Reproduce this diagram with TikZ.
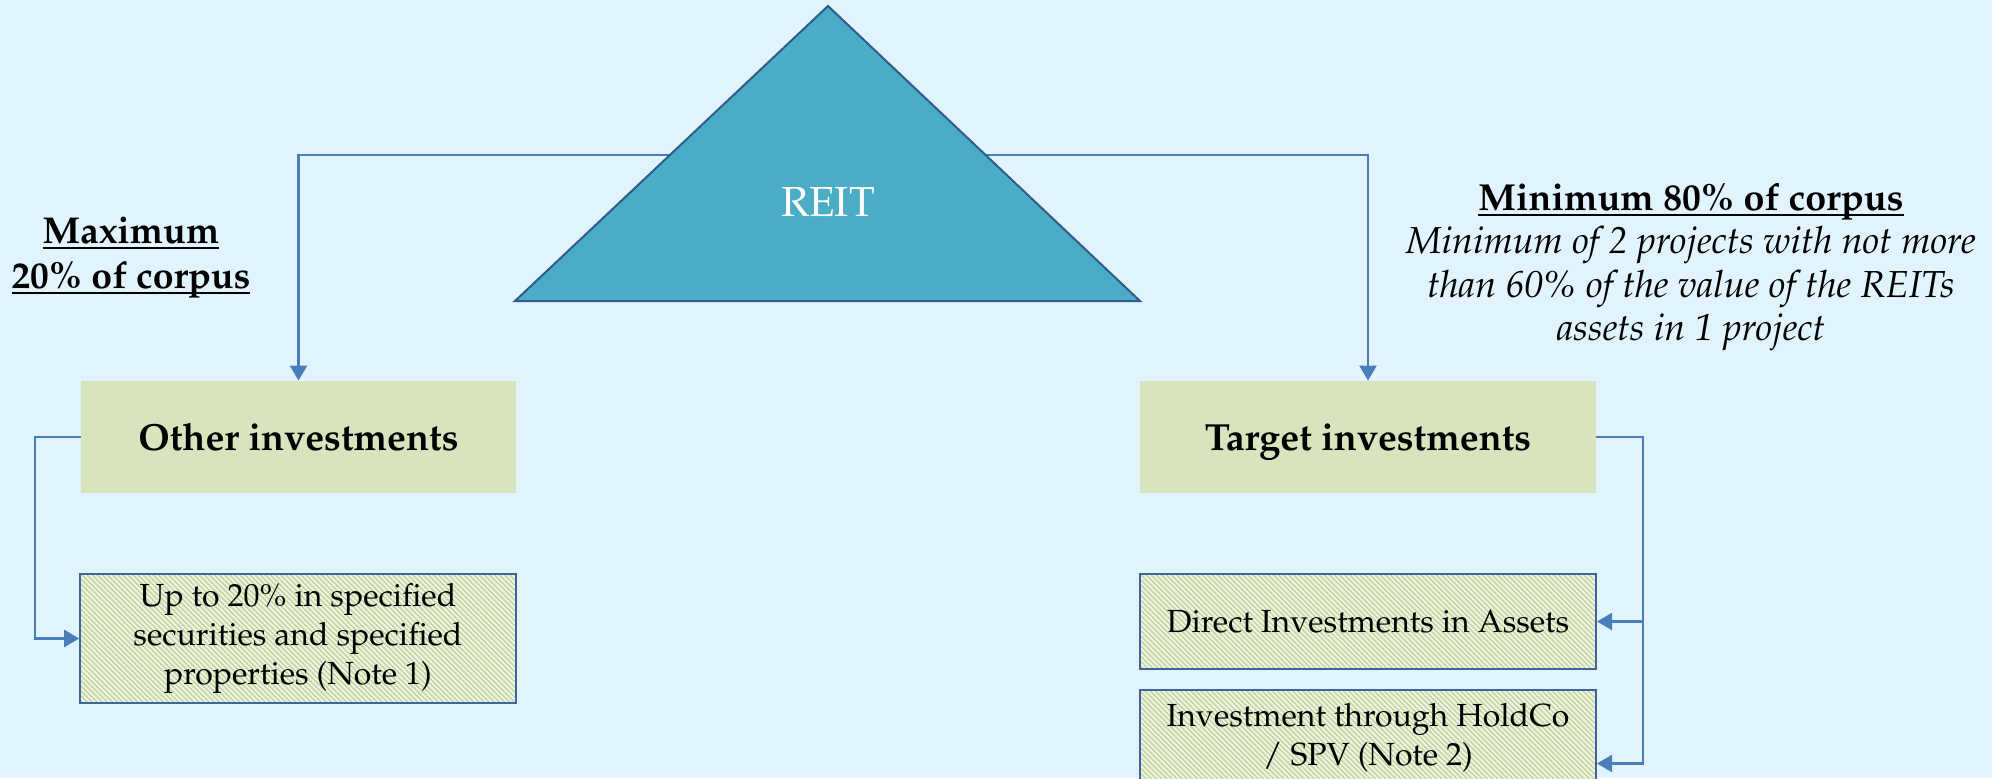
\documentclass[tikz,border=0pt]{standalone}
\IfFileExists{mathpazo.sty}
  {\usepackage[T1]{fontenc}\usepackage{mathpazo}}
  {\usepackage{fontspec}\setmainfont{Liberation Serif}}
\usepackage{tikz}
\usetikzlibrary{arrows.meta,patterns.meta,calc}
\definecolor{skyBg}{HTML}{E1F3FD}
\definecolor{reitTeal}{HTML}{4BACC6}
\definecolor{reitEdge}{HTML}{2F5C8A}
\definecolor{linkBlue}{HTML}{4A7EBB}
\definecolor{oliveFill}{HTML}{D7E4BD}
\definecolor{hatchLight}{HTML}{F1F6E9}
\definecolor{hatchDark}{HTML}{C5D7A0}
\definecolor{boxEdge}{HTML}{3D679A}
\newcommand{\fsz}[2]{\fontsize{#1}{#2}\selectfont}
\newsavebox{\ulsave}
\newcommand{\ulwords}[1]{\sbox{\ulsave}{#1}%
  \rlap{\rule[-2.8pt]{\wd\ulsave}{1pt}}\usebox{\ulsave}}

\begin{document}
\begin{tikzpicture}[
  x=0.5pt, y=-0.5pt,
  head/.style={fill=oliveFill, align=center, inner sep=0pt,
    minimum height=56pt, text height=13pt, text depth=0pt,
    font=\fsz{18.9}{22}\bfseries},
  hatch/.style={draw=boxEdge, line width=1pt, preaction={fill=hatchLight},
    pattern={Lines[angle=-45,distance=1.8pt,line width=0.8pt]},
    pattern color=hatchDark, align=center, inner sep=0pt,
    font=\fsz{16}{19.4}},
  link/.style={draw=linkBlue, line width=1.1pt,
    -{Triangle[width=8.5pt,length=7.5pt]}},
  note/.style={align=center, inner sep=0pt},
]
\fill[skyBg] (0,0) rectangle (1992,778);
\useasboundingbox (0,0) rectangle (1992,778);

\node[head, minimum width=217.5pt] (other) at (298.5,437) {Other investments};
\node[head, minimum width=228pt] (target) at (1368,437) {Target investments};
\node[hatch, minimum width=218pt, minimum height=64.5pt] (upto) at (298,638.5)
  {Up to 20\% in specified\\securities and specified\\properties (Note 1)};
\node[hatch, minimum width=228pt, minimum height=47.5pt] (direct) at (1368,621.5)
  {Direct Investments in Assets};
\node[hatch, minimum width=228pt, minimum height=47.5pt] (holdco) at (1368,737.5)
  {Investment through HoldCo\\/ SPV (Note 2)};

\coordinate (fork) at (828,155);
\coordinate (spineL) at (35,437);
\coordinate (spineR) at (1643,437);
\draw[link] (fork) -| (other.north);
\draw[link] (fork) -| (target.north);
\draw[link] (other.west) -- (spineL) |- (upto.west);
\draw[link] (target.east) -- (spineR) |- (direct.east);
\draw[link] (spineR) |- ($(holdco.east)+(0,26)$);

\filldraw[fill=reitTeal, draw=reitEdge, line width=1pt]
  (515,301) -- (828,6) -- (1140,301) -- cycle;
\node[text=white, font=\fsz{21}{25}] (reit) at (828,202) {REIT};

\node[note, font=\fsz{18.7}{22.5}\bfseries] (maxnote) at (131,258)
  {\ulwords{Maximum}\\\ulwords{20\% of corpus}};
\node[note, font=\fsz{18.8}{21.8}] (minnote) at (1691,267)
  {\textbf{\ulwords{Minimum 80\% of corpus}}\\
   \textit{Minimum of 2 projects with not more}\\
   \textit{than 60\% of the value of the REITs}\\
   \textit{assets in 1 project}};
\end{tikzpicture}
\end{document}
